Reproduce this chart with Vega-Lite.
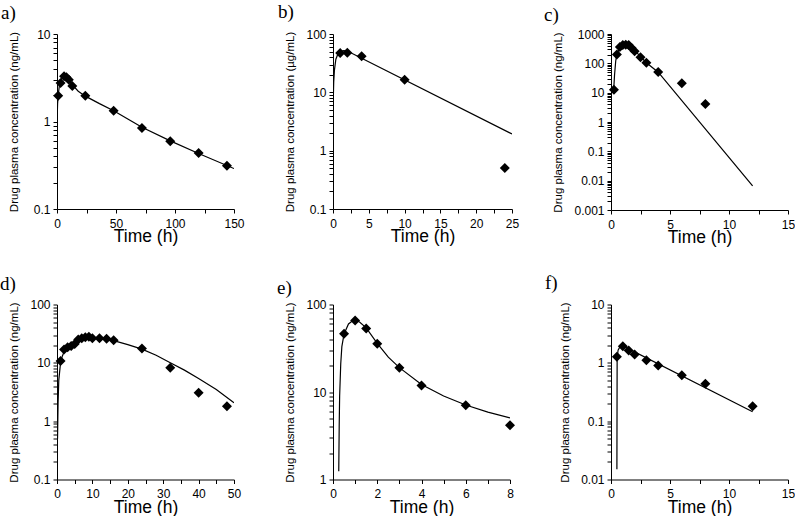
{
  "$schema": "https://vega.github.io/schema/vega-lite/v6.json",
  "background": "white",
  "padding": {"left": 0, "top": 3, "right": 0, "bottom": 0},
  "config": {
    "view": {"stroke": null},
    "font": "Liberation Sans",
    "axis": {"grid": false, "domainColor": "black", "tickColor": "black", "labelColor": "black", "titleColor": "black", "labelFont": "Liberation Sans", "titleFont": "Liberation Sans", "labelFontSize": 12, "tickSize": 4, "domainWidth": 1, "tickWidth": 1, "titleFontWeight": "normal", "labelFlush": false, "labelOverlap": false},
    "axisX": {"labelPadding": 5, "titleFontSize": 17.5, "titleY": 32.7, "titleBaseline": "alphabetic", "labelAngle": 0},
    "axisY": {"labelPadding": 3, "titleFontSize": 11.5, "titleBaseline": "middle"},
    "title": {"font": "Liberation Serif", "fontSize": 19, "fontWeight": "normal", "anchor": "start", "frame": "group", "baseline": "alphabetic", "color": "black", "offset": 6}
  },
  "datasets": {
    "obs": [
      {"p": "a", "t": 1, "c": 1.97}, {"p": "a", "t": 3, "c": 2.75}, {"p": "a", "t": 6, "c": 3.28}, {"p": "a", "t": 8, "c": 3.2}, {"p": "a", "t": 10, "c": 3.0}, {"p": "a", "t": 13, "c": 2.55}, {"p": "a", "t": 24, "c": 1.97}, {"p": "a", "t": 48, "c": 1.33}, {"p": "a", "t": 72, "c": 0.843}, {"p": "a", "t": 96, "c": 0.593}, {"p": "a", "t": 120, "c": 0.437}, {"p": "a", "t": 144, "c": 0.313},
      {"p": "b", "t": 1, "c": 47.2}, {"p": "b", "t": 2, "c": 47.5}, {"p": "b", "t": 4, "c": 41.4}, {"p": "b", "t": 10, "c": 16.5}, {"p": "b", "t": 24, "c": 0.505},
      {"p": "c", "t": 0.25, "c": 12.5}, {"p": "c", "t": 0.5, "c": 200}, {"p": "c", "t": 0.75, "c": 360}, {"p": "c", "t": 1, "c": 420}, {"p": "c", "t": 1.25, "c": 430}, {"p": "c", "t": 1.5, "c": 420}, {"p": "c", "t": 1.75, "c": 335}, {"p": "c", "t": 2, "c": 260}, {"p": "c", "t": 2.5, "c": 162}, {"p": "c", "t": 3, "c": 105}, {"p": "c", "t": 4, "c": 51}, {"p": "c", "t": 6, "c": 21}, {"p": "c", "t": 8, "c": 4.1},
      {"p": "d", "t": 1, "c": 10.7}, {"p": "d", "t": 2, "c": 17}, {"p": "d", "t": 3, "c": 18.5}, {"p": "d", "t": 4, "c": 19.5}, {"p": "d", "t": 5, "c": 21}, {"p": "d", "t": 6, "c": 25}, {"p": "d", "t": 7, "c": 26.5}, {"p": "d", "t": 8, "c": 27.5}, {"p": "d", "t": 9, "c": 28}, {"p": "d", "t": 10, "c": 26.5}, {"p": "d", "t": 12, "c": 26.5}, {"p": "d", "t": 14, "c": 26}, {"p": "d", "t": 16, "c": 24.5}, {"p": "d", "t": 24, "c": 17.6}, {"p": "d", "t": 32, "c": 8.2}, {"p": "d", "t": 40, "c": 3.06}, {"p": "d", "t": 48, "c": 1.81},
      {"p": "e", "t": 0.5, "c": 46.2}, {"p": "e", "t": 1, "c": 65.7}, {"p": "e", "t": 1.5, "c": 53.2}, {"p": "e", "t": 2, "c": 35.5}, {"p": "e", "t": 3, "c": 18.9}, {"p": "e", "t": 4, "c": 11.9}, {"p": "e", "t": 6, "c": 7.07}, {"p": "e", "t": 8, "c": 4.18},
      {"p": "f", "t": 0.5, "c": 1.27}, {"p": "f", "t": 1, "c": 1.93}, {"p": "f", "t": 1.5, "c": 1.63}, {"p": "f", "t": 2, "c": 1.39}, {"p": "f", "t": 3, "c": 1.11}, {"p": "f", "t": 4, "c": 0.9}, {"p": "f", "t": 6, "c": 0.615}, {"p": "f", "t": 8, "c": 0.436}, {"p": "f", "t": 12, "c": 0.181}
    ],
    "fit": [
      {"p": "a", "t": 0.05, "c": 1.0}, {"p": "a", "t": 0.5, "c": 1.6}, {"p": "a", "t": 1, "c": 2.0}, {"p": "a", "t": 2, "c": 2.55}, {"p": "a", "t": 3, "c": 2.9}, {"p": "a", "t": 4, "c": 3.1}, {"p": "a", "t": 5, "c": 3.25}, {"p": "a", "t": 6, "c": 3.3}, {"p": "a", "t": 8, "c": 3.17}, {"p": "a", "t": 10, "c": 2.97}, {"p": "a", "t": 13, "c": 2.62}, {"p": "a", "t": 18, "c": 2.22}, {"p": "a", "t": 24, "c": 1.95}, {"p": "a", "t": 36, "c": 1.6}, {"p": "a", "t": 48, "c": 1.33}, {"p": "a", "t": 60, "c": 1.07}, {"p": "a", "t": 72, "c": 0.86}, {"p": "a", "t": 96, "c": 0.6}, {"p": "a", "t": 120, "c": 0.43}, {"p": "a", "t": 150, "c": 0.29},
      {"p": "b", "t": 0.03, "c": 7}, {"p": "b", "t": 0.1, "c": 15}, {"p": "b", "t": 0.2, "c": 24}, {"p": "b", "t": 0.4, "c": 37}, {"p": "b", "t": 0.7, "c": 46}, {"p": "b", "t": 1, "c": 50}, {"p": "b", "t": 1.5, "c": 52}, {"p": "b", "t": 2, "c": 51}, {"p": "b", "t": 25, "c": 1.93},
      {"p": "c", "t": 0.22, "c": 11}, {"p": "c", "t": 0.3, "c": 40}, {"p": "c", "t": 0.4, "c": 120}, {"p": "c", "t": 0.5, "c": 200}, {"p": "c", "t": 0.7, "c": 320}, {"p": "c", "t": 1, "c": 410}, {"p": "c", "t": 1.3, "c": 440}, {"p": "c", "t": 1.5, "c": 420}, {"p": "c", "t": 1.8, "c": 340}, {"p": "c", "t": 2, "c": 280}, {"p": "c", "t": 2.5, "c": 170}, {"p": "c", "t": 3, "c": 105}, {"p": "c", "t": 4, "c": 50}, {"p": "c", "t": 12, "c": 0.0066},
      {"p": "d", "t": 0.15, "c": 0.5}, {"p": "d", "t": 0.3, "c": 2}, {"p": "d", "t": 0.5, "c": 5}, {"p": "d", "t": 1, "c": 10}, {"p": "d", "t": 1.5, "c": 13}, {"p": "d", "t": 2, "c": 15.5}, {"p": "d", "t": 3, "c": 18.5}, {"p": "d", "t": 4, "c": 20.5}, {"p": "d", "t": 6, "c": 24}, {"p": "d", "t": 8, "c": 26.5}, {"p": "d", "t": 10, "c": 27}, {"p": "d", "t": 12, "c": 26.5}, {"p": "d", "t": 14, "c": 25.5}, {"p": "d", "t": 16, "c": 24}, {"p": "d", "t": 20, "c": 20.5}, {"p": "d", "t": 24, "c": 17.2}, {"p": "d", "t": 28, "c": 13.5}, {"p": "d", "t": 32, "c": 10}, {"p": "d", "t": 36, "c": 7.5}, {"p": "d", "t": 40, "c": 5.4}, {"p": "d", "t": 45, "c": 3.5}, {"p": "d", "t": 50, "c": 2.06},
      {"p": "e", "t": 0.26, "c": 1.24}, {"p": "e", "t": 0.28, "c": 4}, {"p": "e", "t": 0.3, "c": 9}, {"p": "e", "t": 0.35, "c": 21}, {"p": "e", "t": 0.4, "c": 33}, {"p": "e", "t": 0.5, "c": 46}, {"p": "e", "t": 0.7, "c": 60}, {"p": "e", "t": 0.9, "c": 65.5}, {"p": "e", "t": 1, "c": 66}, {"p": "e", "t": 1.2, "c": 63}, {"p": "e", "t": 1.5, "c": 54}, {"p": "e", "t": 2, "c": 36}, {"p": "e", "t": 2.5, "c": 25}, {"p": "e", "t": 3, "c": 19}, {"p": "e", "t": 4, "c": 12.2}, {"p": "e", "t": 5, "c": 9}, {"p": "e", "t": 6, "c": 7.1}, {"p": "e", "t": 7, "c": 5.9}, {"p": "e", "t": 8, "c": 5.07},
      {"p": "f", "t": 0.5, "c": 0.015}, {"p": "f", "t": 0.52, "c": 1.2}, {"p": "f", "t": 0.6, "c": 1.65}, {"p": "f", "t": 0.8, "c": 1.95}, {"p": "f", "t": 1, "c": 1.95}, {"p": "f", "t": 12, "c": 0.145}
    ]
  },
  "bounds": "flush",
  "align": "each",
  "columns": 3,
  "spacing": {"column": 99, "row": 94.5},
  "concat": [
    {
      "width": 177, "height": 175,
      "title": {"text": "a)", "dx": -56, "dy": 1},
      "encoding": {
        "x": {"field": "t", "type": "quantitative", "scale": {"domain": [0, 150], "nice": false, "zero": false}, "axis": {"title": "Time (h)", "values": [0, 25, 50, 75, 100, 125, 150], "labelExpr": "datum.value % 50 === 0 ? datum.label : ''"}},
        "y": {"field": "c", "type": "quantitative", "scale": {"type": "log", "domain": [0.1, 10], "nice": false}, "axis": {"title": "Drug plasma concentration (ng/mL)", "titleX": -43, "format": "~g", "values": [0.1, 0.2, 0.3, 0.4, 0.5, 0.6, 0.7, 0.8, 0.9, 1, 2, 3, 4, 5, 6, 7, 8, 9, 10], "labelExpr": "indexof(['0.001','0.01','0.1','1','10','100','1000'], datum.label) >= 0 ? datum.label : ''"}}
      },
      "layer": [
        {"data": {"name": "fit"}, "transform": [{"filter": "datum.p === 'a'"}], "mark": {"type": "line", "color": "black", "strokeWidth": 1.2, "clip": true}},
        {"data": {"name": "obs"}, "transform": [{"filter": "datum.p === 'a'"}], "mark": {"type": "point", "shape": "diamond", "filled": true, "size": 100, "color": "black", "opacity": 1}}
      ]
    },
    {
      "width": 179, "height": 175,
      "title": {"text": "b)", "dx": -55},
      "encoding": {
        "x": {"field": "t", "type": "quantitative", "scale": {"domain": [0, 25], "nice": false, "zero": false}, "axis": {"title": "Time (h)", "values": [0, 2.5, 5, 7.5, 10, 12.5, 15, 17.5, 20, 22.5, 25], "labelExpr": "datum.value % 5 === 0 ? datum.label : ''"}},
        "y": {"field": "c", "type": "quantitative", "scale": {"type": "log", "domain": [0.1, 100], "nice": false}, "axis": {"title": "Drug plasma concentration (µg/mL)", "titleX": -43, "format": "~g", "values": [0.1, 0.2, 0.3, 0.4, 0.5, 0.6, 0.7, 0.8, 0.9, 1, 2, 3, 4, 5, 6, 7, 8, 9, 10, 20, 30, 40, 50, 60, 70, 80, 90, 100], "labelExpr": "indexof(['0.001','0.01','0.1','1','10','100','1000'], datum.label) >= 0 ? datum.label : ''"}}
      },
      "layer": [
        {"data": {"name": "fit"}, "transform": [{"filter": "datum.p === 'b'"}], "mark": {"type": "line", "color": "black", "strokeWidth": 1.2, "clip": true}},
        {"data": {"name": "obs"}, "transform": [{"filter": "datum.p === 'b'"}], "mark": {"type": "point", "shape": "diamond", "filled": true, "size": 100, "color": "black", "opacity": 1}}
      ]
    },
    {
      "width": 177, "height": 176,
      "title": {"text": "c)", "dx": -67, "dy": 2.5},
      "encoding": {
        "x": {"field": "t", "type": "quantitative", "scale": {"domain": [0, 15], "nice": false, "zero": false}, "axis": {"title": "Time (h)", "values": [0, 2.5, 5, 7.5, 10, 12.5, 15], "labelExpr": "datum.value % 5 === 0 ? datum.label : ''"}},
        "y": {"field": "c", "type": "quantitative", "scale": {"type": "log", "domain": [0.001, 1000], "nice": false}, "axis": {"title": "Drug plasma concentration (ng/mL)", "titleX": -52.7, "format": "~g", "values": [0.001, 0.002, 0.003, 0.004, 0.005, 0.006, 0.007, 0.008, 0.009, 0.01, 0.02, 0.03, 0.04, 0.05, 0.06, 0.07, 0.08, 0.09, 0.1, 0.2, 0.3, 0.4, 0.5, 0.6, 0.7, 0.8, 0.9, 1, 2, 3, 4, 5, 6, 7, 8, 9, 10, 20, 30, 40, 50, 60, 70, 80, 90, 100, 200, 300, 400, 500, 600, 700, 800, 900, 1000], "labelExpr": "indexof(['0.001','0.01','0.1','1','10','100','1000'], datum.label) >= 0 ? datum.label : ''"}}
      },
      "layer": [
        {"data": {"name": "fit"}, "transform": [{"filter": "datum.p === 'c'"}], "mark": {"type": "line", "color": "black", "strokeWidth": 1.2, "clip": true}},
        {"data": {"name": "obs"}, "transform": [{"filter": "datum.p === 'c'"}], "mark": {"type": "point", "shape": "diamond", "filled": true, "size": 100, "color": "black", "opacity": 1}}
      ]
    },
    {
      "width": 177, "height": 175,
      "title": {"text": "d)", "dx": -57, "dy": 1},
      "encoding": {
        "x": {"field": "t", "type": "quantitative", "scale": {"domain": [0, 50], "nice": false, "zero": false}, "axis": {"title": "Time (h)", "values": [0, 5, 10, 15, 20, 25, 30, 35, 40, 45, 50], "labelExpr": "datum.value % 10 === 0 ? datum.label : ''"}},
        "y": {"field": "c", "type": "quantitative", "scale": {"type": "log", "domain": [0.1, 100], "nice": false}, "axis": {"title": "Drug plasma concentration (ng/mL)", "titleX": -42.3, "format": "~g", "values": [0.1, 0.2, 0.3, 0.4, 0.5, 0.6, 0.7, 0.8, 0.9, 1, 2, 3, 4, 5, 6, 7, 8, 9, 10, 20, 30, 40, 50, 60, 70, 80, 90, 100], "labelExpr": "indexof(['0.001','0.01','0.1','1','10','100','1000'], datum.label) >= 0 ? datum.label : ''"}}
      },
      "layer": [
        {"data": {"name": "fit"}, "transform": [{"filter": "datum.p === 'd'"}], "mark": {"type": "line", "color": "black", "strokeWidth": 1.2, "clip": true}},
        {"data": {"name": "obs"}, "transform": [{"filter": "datum.p === 'd'"}], "mark": {"type": "point", "shape": "diamond", "filled": true, "size": 100, "color": "black", "opacity": 1}}
      ]
    },
    {
      "width": 177, "height": 175,
      "title": {"text": "e)", "dx": -56, "dy": 5},
      "encoding": {
        "x": {"field": "t", "type": "quantitative", "scale": {"domain": [0, 8], "nice": false, "zero": false}, "axis": {"title": "Time (h)", "values": [0, 1, 2, 3, 4, 5, 6, 7, 8], "labelExpr": "datum.value % 2 === 0 ? datum.label : ''"}},
        "y": {"field": "c", "type": "quantitative", "scale": {"type": "log", "domain": [1, 100], "nice": false}, "axis": {"title": "Drug plasma concentration (ng/mL)", "titleX": -43, "format": "~g", "values": [1, 2, 3, 4, 5, 6, 7, 8, 9, 10, 20, 30, 40, 50, 60, 70, 80, 90, 100], "labelExpr": "indexof(['0.001','0.01','0.1','1','10','100','1000'], datum.label) >= 0 ? datum.label : ''"}}
      },
      "layer": [
        {"data": {"name": "fit"}, "transform": [{"filter": "datum.p === 'e'"}], "mark": {"type": "line", "color": "black", "strokeWidth": 1.2, "clip": true}},
        {"data": {"name": "obs"}, "transform": [{"filter": "datum.p === 'e'"}], "mark": {"type": "point", "shape": "diamond", "filled": true, "size": 100, "color": "black", "opacity": 1}}
      ]
    },
    {
      "width": 177, "height": 175,
      "title": {"text": "f)", "dx": -66},
      "encoding": {
        "x": {"field": "t", "type": "quantitative", "scale": {"domain": [0, 15], "nice": false, "zero": false}, "axis": {"title": "Time (h)", "values": [0, 2.5, 5, 7.5, 10, 12.5, 15], "labelExpr": "datum.value % 5 === 0 ? datum.label : ''"}},
        "y": {"field": "c", "type": "quantitative", "scale": {"type": "log", "domain": [0.01, 10], "nice": false}, "axis": {"title": "Drug plasma concentration (ng/mL)", "titleX": -46, "format": "~g", "values": [0.01, 0.02, 0.03, 0.04, 0.05, 0.06, 0.07, 0.08, 0.09, 0.1, 0.2, 0.3, 0.4, 0.5, 0.6, 0.7, 0.8, 0.9, 1, 2, 3, 4, 5, 6, 7, 8, 9, 10], "labelExpr": "indexof(['0.001','0.01','0.1','1','10','100','1000'], datum.label) >= 0 ? datum.label : ''"}}
      },
      "layer": [
        {"data": {"name": "fit"}, "transform": [{"filter": "datum.p === 'f'"}], "mark": {"type": "line", "color": "black", "strokeWidth": 1.2, "clip": true}},
        {"data": {"name": "obs"}, "transform": [{"filter": "datum.p === 'f'"}], "mark": {"type": "point", "shape": "diamond", "filled": true, "size": 100, "color": "black", "opacity": 1}}
      ]
    }
  ]
}
